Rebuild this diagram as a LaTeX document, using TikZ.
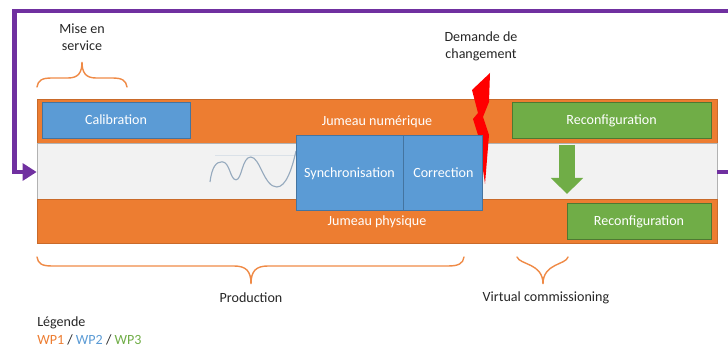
\documentclass[tikz,border=0pt]{standalone}
\usepackage{fontspec}
\setmainfont{Carlito}
\definecolor{wp_orange}{RGB}{237, 125, 49}
\definecolor{wp_blue}{RGB}{91, 155, 213}
\definecolor{wp_green}{RGB}{112, 173, 71}
\definecolor{wp_purple}{RGB}{112, 48, 160}
\definecolor{wp_grey}{RGB}{242, 242, 242}
\definecolor{wp_wave}{RGB}{150, 170, 190}
\usetikzlibrary{arrows.meta, positioning}

\begin{document}
\begin{tikzpicture}[
      font=\fontsize{10}{12}\selectfont,
      band/.style={rectangle, draw=wp_orange!85!black, line width=0.3pt, fill=wp_orange,
                   minimum width=17cm, text=white, inner sep=0pt,
                   text height=7pt, text depth=0.5pt},
      midband/.style={rectangle, draw=black!30, line width=0.5pt, fill=wp_grey,
                      minimum width=17cm, minimum height=1.4cm},
      task/.style={rectangle, draw=wp_blue!75!black, line width=0.6pt, fill=wp_blue,
                   text=white, inner sep=0pt, text height=7pt, text depth=0.5pt},
      greentask/.style={rectangle, draw=wp_green!70!black, line width=0.6pt, fill=wp_green,
                        text=white, inner sep=0pt, minimum height=0.9cm,
                        text height=7pt, text depth=0.5pt},
      label/.style={text=black!85, align=center, inner sep=0pt},
      accol/.style={draw=wp_orange!90!white, line width=1pt, line cap=round},
      loopline/.style={draw=wp_purple, line width=0.115cm,
                       -{Triangle[length=0.35cm, width=0.42cm]}},
      greenarrow/.style={draw=wp_green, line width=0.4cm,
                         -{Triangle[length=0.4cm, width=0.78cm]}},
    ]
      \clip (0, 0) rectangle (18.2, 8.725);

      % bandes
      \node[band, minimum height=1.1cm] (numerique) at (9.425, 5.7) {Jumeau numérique};
      \node[midband] (milieu) at (9.425, 4.45) {};
      \node[band, minimum height=1.11cm] (physique) at (9.425, 3.2) {Jumeau physique};

      % boucle
      \coordinate (loopA) at (18.6, 4.425);
      \coordinate (loopB) at (18.6, 8.45);
      \coordinate (loopC) at (0.37, 8.45);
      \coordinate (loopD) at (0.37, 4.425);
      \draw[loopline] (milieu.east |- loopA) -- (loopA) -- (loopB) -- (loopC) -- (loopD)
            -- (milieu.west |- loopD);

      % signal
      \coordinate (waveA) at (5.375, 4.85);
      \coordinate (waveB) at (7.4, 4.85);
      \draw[wp_wave!35, line width=0.6pt] (waveA) -- (waveB);
      \draw[wp_wave, line width=0.8pt] (5.25, 4.175)
            .. controls (5.3, 4.55) and (5.4, 4.68) .. (5.55, 4.68)
            .. controls (5.75, 4.68) and (5.75, 4.23) .. (5.9, 4.23)
            .. controls (6.05, 4.23) and (6.05, 4.8) .. (6.27, 4.8)
            .. controls (6.5, 4.8) and (6.6, 4.05) .. (6.92, 4.05)
            .. controls (7.15, 4.05) and (7.3, 4.5) .. (7.4, 4.95);

      % eclair
      \fill[red] (12.25, 6.9) -- (11.8, 6.475) -- (11.95, 5.9) -- (11.825, 5.75)
            -- (11.95, 5.35) -- (12.125, 4.125) -- (12.225, 5.35) -- (12.075, 5.8)
            -- (12.225, 6.175) -- cycle;

      \node[task, minimum width=3.7cm, minimum height=0.89cm] (calib) at (2.9, 5.72) {Calibration};
      \node[task, minimum width=2.675cm, minimum height=1.875cm] (synchro) at (8.7375, 4.41) {Synchronisation};
      \node[task, minimum width=1.975cm, minimum height=1.875cm, right=0cm of synchro] (correc) {Correction};
      \node[greentask, minimum width=4.975cm] (reconfA) at (15.29, 5.72) {Reconfiguration};
      \node[greentask, minimum width=3.6cm] (reconfB) at (15.975, 3.19) {Reconfiguration};

      % fleche verte
      \coordinate (arrowA) at (14.175, 5.1);
      \coordinate (arrowB) at (14.175, 3.875);
      \draw[greenarrow] (arrowA) -- (arrowB);

      % accolades
      \draw[accol] (0.925, 6.55)
            .. controls (0.95, 6.72) and (1.05, 6.775) .. (1.3, 6.775) -- (1.7, 6.775)
            .. controls (1.95, 6.775) and (2.05, 6.9) .. (2.05, 7.175)
            .. controls (2.05, 6.9) and (2.15, 6.775) .. (2.4, 6.775) -- (2.8, 6.775)
            .. controls (3.05, 6.775) and (3.15, 6.72) .. (3.175, 6.55);
      \draw[accol] (0.925, 2.3)
            .. controls (0.95, 2.13) and (1.05, 2.075) .. (1.3, 2.075) -- (5.85, 2.075)
            .. controls (6.15, 2.075) and (6.275, 1.95) .. (6.275, 1.625)
            .. controls (6.275, 1.95) and (6.4, 2.075) .. (6.7, 2.075) -- (11.2, 2.075)
            .. controls (11.45, 2.075) and (11.58, 2.13) .. (11.6, 2.3);
      \draw[accol] (12.925, 2.3)
            .. controls (13, 2.1) and (13.575, 2.15) .. (13.575, 1.625)
            .. controls (13.575, 2.15) and (14.15, 2.1) .. (14.2, 2.3);

      % textes
      \node[label] (miseen) at (2.05, 7.8) {Mise en\\service};
      \node[label] (demande) at (12.025, 7.575) {Demande de\\changement};
      \node[label] (prod) at (6.275, 1.275) {Production};
      \node[label] (virtual) at (13.65, 1.275) {Virtual commissioning};
      \node[label, anchor=west] (legende) at (0.925, 0.65) {Légende};
      \node[label, anchor=west] (wps) at (0.925, 0.225)
            {\textcolor{wp_orange}{WP1} / \textcolor{wp_blue}{WP2} / \textcolor{wp_green}{WP3}};
    \end{tikzpicture}
\end{document}
